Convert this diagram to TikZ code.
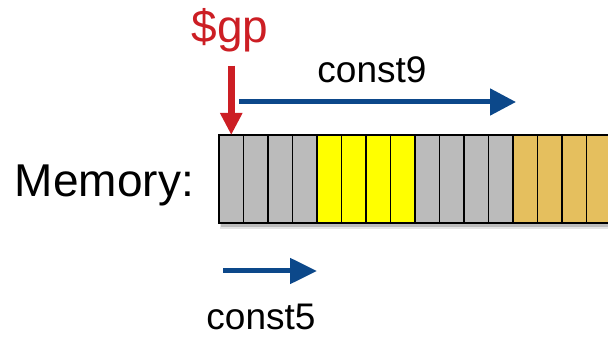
\documentclass[tikz,border=0pt]{standalone}
\usepackage{fontspec}
\setmainfont{Liberation Sans}
\usepackage{tikz}
\usetikzlibrary{arrows.meta, positioning}

\definecolor{gpred}{RGB}{204,30,36}
\definecolor{constblue}{RGB}{12,72,138}
\definecolor{wordgray}{RGB}{187,187,187}
\definecolor{wordyellow}{RGB}{255,255,0}
\definecolor{wordtan}{RGB}{229,191,94}

\begin{document}
\begin{tikzpicture}[x=1pt, y=1pt,
    cell/.style={draw, line width=1.9pt, minimum width=24.5pt, minimum height=88pt, inner sep=0pt, outer sep=0pt},
    bluearrow/.style={line width=5pt, color=constblue},
    textlbl/.style={font=\fontsize{37}{40}\selectfont, inner sep=0pt, anchor=base}]
				\useasboundingbox (0,0) rectangle (608,340);
				\clip (0,0) rectangle (608,340);
				
				% Shadow of the memory strip
				\fill[black, opacity=0.18] (221,113) rectangle (612,202);
				\fill[black, opacity=0.10] (220,111) rectangle (613,203);
				
				% Memory words
				\foreach \i/\col in {1/wordgray, 2/wordgray, 3/wordgray, 4/wordgray,
				                     5/wordyellow, 6/wordyellow, 7/wordyellow, 8/wordyellow,
				                     9/wordgray, 10/wordgray, 11/wordgray, 12/wordgray,
				                     13/wordtan, 14/wordtan, 15/wordtan, 16/wordtan}
				  \node[cell, fill=\col] (c\i) at ({219+24.5*(\i-0.5)}, 161) {};
				
				\node[font=\fontsize{46}{50}\selectfont, inner sep=0pt, anchor=base east] (mem) at (194,143) {Memory:};
				
				% Global pointer
				\node[font=\fontsize{46}{50}\selectfont, text=gpred, inner sep=0pt, anchor=base] (gp) at (230,297) {\$gp};
				\draw[-{Triangle[length=22pt, width=21pt]}, line width=7pt, color=gpred, shorten <=13pt] (gp.south -| c1.north) -- (c1.north);
				
				% Offsets
				\coordinate (k9s) at (239,238);
				\coordinate (k9e) at (516,238);
				\draw[bluearrow, -{Triangle[length=26pt, width=26pt]}] (k9s) -- (k9e);
				\node[textlbl] (k9) at (372,257) {const9};
				
				\coordinate (k5s) at (223,69);
				\coordinate (k5e) at (317,69);
				\draw[bluearrow, -{Triangle[length=27pt, width=25pt]}] (k5s) -- (k5e);
				\node[textlbl] (k5) at (261,10) {const5};
			\end{tikzpicture}
\end{document}
